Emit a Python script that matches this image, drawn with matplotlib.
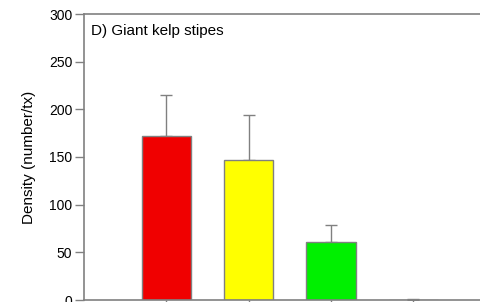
import matplotlib
matplotlib.use("Agg")
import matplotlib.pyplot as plt

plt.rcParams['font.family'] = ['Liberation Sans', 'DejaVu Sans']

categories = ["1", "2", "3", "4"]
values = [172, 147, 61, 0.5]
errors = [43, 47, 18, 1]
colors = ["#F00000", "#FFFF00", "#00F000", "#FFFFFF"]
yticks = [0, 50, 100, 150, 200, 250, 300]

fig = plt.figure(figsize=(4.81, 3.02), dpi=100)
ax = fig.add_axes([84/481, 2/302, 420/481, 286/302])
x = list(range(1, len(categories) + 1))
gray = "#808080"
ax.bar(x, values, width=0.6, color=colors, edgecolor=gray, linewidth=1.0, zorder=2)
ax.errorbar(x, values, yerr=[[0]*len(errors), errors], fmt='none', ecolor=gray,
            elinewidth=1.0, capsize=4, capthick=1.0, zorder=1)
ax.set_xlim(0, 5.1)
ax.set_ylim(0, 300)
ax.set_yticks(yticks)
ax.set_xticks(x)
ax.set_xticklabels([])
ax.tick_params(axis='both', colors=gray, labelcolor='black', labelsize=10, length=6.5, width=1, pad=2)
for s in ax.spines.values():
    s.set_color(gray)
    s.set_linewidth(1.2)
ax.set_ylabel("Density (number/tx)", fontsize=11, labelpad=9)
ax.text(0.017, 0.965, "D) Giant kelp stipes", transform=ax.transAxes, fontsize=11,
        va='top', ha='left')
fig.savefig("out.png", dpi=100)
